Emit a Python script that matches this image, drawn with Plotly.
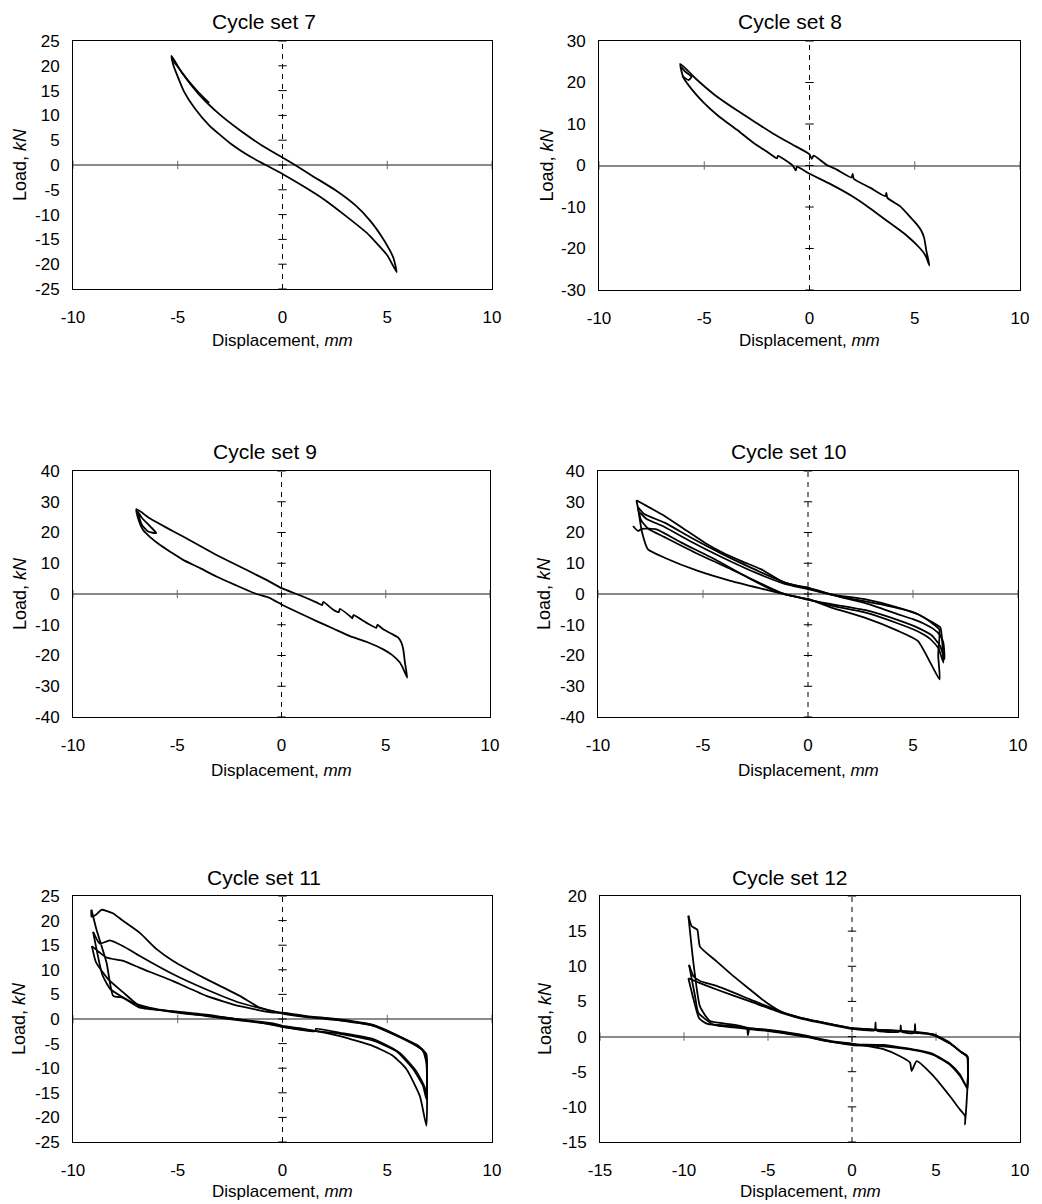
import plotly.graph_objects as go

# page is rendered with the browser's default 8px body margin, so the figure
# is sized to the remaining area and pixel positions are shifted by OFF
PAGE_W, PAGE_H, OFF = 1042, 1204, 8
W, H = PAGE_W - OFF, PAGE_H - OFF

# ---------------- data ----------------
panel_titles = ["Cycle set 7", "Cycle set 8", "Cycle set 9",
                "Cycle set 10", "Cycle set 11", "Cycle set 12"]

# Cycle set 7
cs7_x = [-5.30, -4.80, -4.00, -3.00, -2.00, -1.00, 0.00, 0.60, 1.50, 2.50, 3.50, 4.20, 4.70, 5.10, 5.30, 5.45,
         5.00, 4.50, 4.00, 3.00, 2.00, 1.00, 0.00, -0.80, -1.50, -2.50, -3.50, -4.20, -4.70, -5.00, -5.20, -5.30]
cs7_y = [22.0, 18.6, 14.3, 10.2, 6.9, 4.0, 1.5, 0.0, -2.4, -5.0, -8.2, -11.3, -14.2, -17.0, -18.8, -21.6,
         -18.2, -15.8, -13.6, -10.2, -7.0, -4.3, -1.8, 0.0, 1.6, 4.4, 8.0, 11.5, 14.8, 17.8, 20.0, 22.0]
cs7_c2_x = [-5.25, -5.00, -4.50, -4.00, -3.50]
cs7_c2_y = [21.2, 19.8, 17.0, 14.6, 12.5]

# Cycle set 8
cs8_x = [-6.14, -5.40, -4.50, -3.45, -2.50, -1.70, -0.80, 0.00, 0.10, 0.20, 0.80, 1.30, 2.00, 2.05, 2.10, 2.90,
         3.60, 3.65, 3.70, 4.30, 4.80, 5.10, 5.30, 5.45, 5.55, 5.70, 5.50, 5.26, 4.60, 3.67, 2.90, 2.09, 1.00,
         0.00, -0.60, -0.65, -0.80, -1.50, -1.55, -1.87, -2.70, -3.45, -4.30, -5.04, -5.60, -6.00, -6.14]
cs8_y = [24.5, 20.9, 17.0, 13.3, 10.2, 7.6, 5.0, 2.7, 1.6, 2.4, 0.2, -1.0, -2.9, -2.0, -3.2, -5.4,
         -7.4, -6.6, -7.8, -9.8, -12.5, -14.2, -15.6, -17.5, -20.5, -24.1, -21.6, -20.0, -16.8, -13.3, -10.4, -7.6, -4.5,
         -2.0, -0.3, -1.2, 0.0, 2.3, 1.7, 2.8, 5.6, 8.6, 11.8, 15.2, 18.4, 21.3, 24.5]
cs8_c2_x = [-6.10, -5.90, -5.60, -5.75, -6.05]
cs8_c2_y = [23.8, 22.6, 21.4, 20.6, 21.6]

# Cycle set 9
cs9_x = [-6.96, -6.32, -5.50, -4.72, -3.90, -3.12, -2.30, -1.52, -0.70, 0.00, 0.88, 1.70, 1.95, 2.00, 2.48, 2.75,
         2.80, 3.30, 3.40, 3.45, 4.08, 4.55, 4.60, 4.88, 5.30, 5.60, 5.75, 5.84, 5.92, 6.03, 5.85, 5.68, 5.30,
         4.88, 4.10, 3.28, 2.50, 1.68, 0.80, 0.00, -0.60, -1.20, -2.20, -3.12, -3.90, -4.72, -5.30, -5.84, -6.30,
         -6.64, -6.85, -6.96]
cs9_y = [27.6, 24.6, 21.5, 18.7, 15.6, 12.7, 9.9, 7.3, 4.5, 1.9, -0.4, -2.8, -3.6, -2.6, -5.1, -5.9,
         -4.8, -7.3, -7.9, -6.9, -9.4, -11.0, -10.0, -11.5, -13.0, -14.2, -15.8, -18.0, -22.3, -27.2, -24.5, -22.3, -19.8,
         -18.0, -15.6, -13.7, -11.3, -8.8, -6.0, -3.4, -1.2, 0.0, 2.9, 5.7, 8.4, 11.1, 13.6, 16.0, 18.5,
         20.8, 24.0, 27.6]
cs9_c2_x = [-6.90, -6.70, -6.40, -6.00, -6.30, -6.70, -6.90]
cs9_c2_y = [26.8, 22.5, 20.3, 19.8, 22.0, 24.8, 26.8]

# Cycle set 10
cs10_c1_x = [-8.33, -8.10, -7.90, -7.22, -6.03, -4.44, -2.86, -1.75, -1.00, 0.00, 1.11, 2.70, 4.29, 5.24, 5.80,
             6.20, 6.45, 6.35, 6.30, 5.95, 5.08, 3.49, 1.43, 0.00, -1.11, -2.38, -4.05, -5.56, -6.83, -7.80, -8.10]
cs10_c1_y = [22.1, 20.5, 21.2, 21.0, 16.7, 11.3, 5.3, 1.5, -0.3, -1.7, -3.8, -6.0, -9.6, -12.2, -14.5,
             -17.5, -22.3, -12.5, -10.8, -9.3, -6.1, -3.4, -0.7, 1.8, 3.7, 7.5, 12.9, 18.3, 23.2, 26.0, 28.3]
cs10_c2_x = [-8.10, -7.90, -7.62, -6.83, -5.24, -3.65, -2.06, -1.11, 0.00, 1.11, 2.70, 4.29, 5.24, 5.87, 6.27,
             6.20, 6.25, 5.87, 5.24, 4.29, 2.70, 1.10, 0.00, -0.48, -1.27, -2.22, -3.17, -4.05, -4.92, -5.87,
             -6.83, -7.54, -8.17]
cs10_c2_y = [28.3, 20.0, 14.5, 11.8, 7.5, 4.2, 1.5, -0.1, -1.7, -4.4, -7.7, -12.0, -15.3, -22.9, -27.8,
             -20.0, -11.5, -9.3, -6.6, -4.4, -1.7, -0.1, 2.1, 2.6, 4.2, 8.0, 10.7, 13.4, 16.7, 21.0,
             25.4, 28.1, 30.5]
cs10_c3_x = [-8.17, -7.95, -7.60, -6.83, -5.24, -3.65, -2.06, -1.27, 0.00, 1.11, 2.70, 4.29, 5.24, 5.90, 6.30,
             6.50, 6.45, 6.30, 6.00, 5.50, 5.00, 4.29, 2.70, 1.20, 0.00, -1.11, -2.38, -4.05, -5.56, -6.83,
             -7.70, -8.00]
cs10_c3_y = [30.5, 24.0, 21.2, 18.5, 13.0, 8.0, 2.8, 0.4, -1.9, -3.3, -5.2, -8.5, -11.0, -13.5, -17.0,
             -21.2, -16.0, -13.5, -11.5, -9.6, -8.2, -6.6, -2.9, -0.4, 1.6, 3.3, 6.6, 11.8, 17.0, 21.8,
             24.5, 26.5]

# Cycle set 11
cs11_c1_x = [-9.12, -8.88, -8.40, -8.08, -7.60, -6.81, -5.22, -3.63, -2.04, -0.45, 0.00, 1.15, 2.74, 4.33, 5.28,
             5.92, 6.56, 6.87, 6.87, 6.71, 6.40, 5.28, 4.33, 2.74, 1.15, 0.00, -0.45, -2.04, -3.63, -5.22, -6.81,
             -7.60, -8.24, -8.72, -9.04]
cs11_c1_y = [22.2, 18.2, 11.5, 4.7, 4.3, 2.3, 1.6, 0.9, -0.1, -0.9, -1.4, -2.1, -3.5, -5.5, -7.5,
             -10.2, -15.7, -21.7, -9.0, -6.5, -5.5, -3.1, -1.4, -0.2, 0.5, 1.2, 1.6, 3.3, 6.0, 9.1, 12.8,
             14.8, 16.0, 15.3, 17.7]
cs11_c2_x = [-9.04, -8.60, -8.20, -7.13, -6.00, -4.50, -2.50, -1.00, 0.00, 1.55, 1.60, 2.74, 4.33, 5.44, 6.24,
             6.71, 6.87, 6.87, 6.70, 6.35, 5.28, 4.33, 2.74, 1.15, 0.00, -0.45, -2.04, -3.63, -5.22, -6.81,
             -7.60, -8.40, -9.10]
cs11_c2_y = [17.7, 9.0, 6.0, 3.3, 2.0, 1.1, 0.2, -0.8, -1.6, -2.5, -2.0, -2.8, -4.1, -6.5, -10.2,
             -13.6, -16.3, -8.0, -6.4, -5.3, -2.9, -1.2, -0.1, 0.6, 1.3, 1.3, 2.6, 4.7, 7.7, 10.4,
             11.8, 12.5, 14.8]
cs11_c3_x = [-9.10, -8.90, -8.30, -7.60, -6.81, -5.22, -3.63, -2.04, -0.45, 0.00, 1.50, 2.74, 4.33, 5.60, 6.40,
             6.78, 6.87, 6.87, 6.68, 6.40, 5.28, 4.33, 2.74, 1.15, 0.00, -1.08, -2.04, -3.63, -5.22, -6.01,
             -6.81, -7.60, -8.10, -8.64, -8.90, -9.12, -9.12]
cs11_c3_y = [14.8, 11.5, 8.0, 5.4, 2.6, 1.4, 0.6, -0.3, -1.1, -1.6, -2.4, -3.0, -4.4, -6.9, -10.7,
             -13.8, -15.6, -7.2, -6.2, -5.2, -3.0, -1.3, -0.3, 0.4, 1.1, 2.3, 4.7, 8.1, 11.8, 14.2,
             17.5, 19.9, 21.5, 22.2, 21.2, 20.8, 22.2]

# Cycle set 12
cs12_c1_x = [-9.74, -9.44, -9.05, -8.45, -7.06, -6.25, -6.20, -6.10, -5.08, -3.10, -1.11, 0.00, 1.87, 2.86,
             3.45, 3.55, 3.85, 4.84, 5.83, 6.43, 6.73, 6.73, 6.87, 6.43, 5.83, 4.84, 3.85, 2.86, 1.27, 0.00,
             -1.11, -3.10, -4.09, -6.07, -8.06, -9.05, -9.44, -9.70]
cs12_c1_y = [17.2, 10.5, 4.3, 2.2, 1.7, 1.2, 0.2, 1.1, 1.0, 0.3, -0.7, -1.0, -1.8, -2.8,
             -3.7, -4.9, -3.5, -5.6, -8.5, -10.4, -11.3, -12.5, -2.8, -2.1, -0.9, 0.3, 0.6, 0.8, 1.0, 1.2,
             1.7, 2.7, 3.4, 5.3, 7.2, 7.9, 8.6, 10.2]
cs12_c2_x = [-9.70, -9.34, -9.15, -8.25, -7.06, -5.08, -3.10, -1.11, 0.00, 1.87, 3.85, 4.84, 5.83, 6.43, 6.83,
             6.87, 6.50, 5.83, 4.84, 4.00, 3.80, 3.75, 3.70, 2.95, 2.90, 2.85, 1.45, 1.40, 1.35, 0.00,
             -1.11, -3.10, -4.09, -6.07, -8.06, -9.05, -9.74]
cs12_c2_y = [10.2, 5.7, 3.4, 1.7, 1.3, 0.8, 0.1, -0.8, -1.2, -1.4, -2.0, -2.6, -4.0, -5.6, -7.1,
             -2.9, -2.2, -1.0, 0.2, 0.5, 0.5, 1.8, 0.5, 0.7, 1.6, 0.7, 0.9, 2.0, 0.9, 1.1,
             1.6, 2.6, 3.3, 5.0, 6.7, 7.6, 8.3]
cs12_c3_x = [-9.74, -9.40, -9.10, -8.60, -7.06, -5.08, -3.10, -1.11, 0.00, 1.87, 3.85, 4.84, 5.83, 6.43, 6.87,
             6.87, 6.83, 6.43, 5.83, 4.84, 4.05, 2.86, 1.27, 0.00, -1.11, -3.10, -4.09, -5.08, -6.07, -7.06,
             -8.06, -9.05, -9.21, -9.54, -9.74]
cs12_c3_y = [8.3, 5.0, 2.6, 1.8, 1.5, 0.9, 0.2, -0.8, -1.1, -1.2, -1.9, -2.5, -3.9, -5.4, -7.4,
             -3.0, -2.8, -2.1, -0.9, 0.3, 0.6, 0.8, 1.0, 1.2, 1.7, 2.7, 3.4, 4.8, 6.7, 8.6,
             10.7, 12.8, 15.2, 15.7, 17.2]

# axis ticks per panel
x_ticks = [[-10, -5, 0, 5, 10]] * 5 + [[-15, -10, -5, 0, 5, 10]]
y_ticks = [
    [-25, -20, -15, -10, -5, 0, 5, 10, 15, 20, 25],
    [-30, -20, -10, 0, 10, 20, 30],
    [-40, -30, -20, -10, 0, 10, 20, 30, 40],
    [-40, -30, -20, -10, 0, 10, 20, 30, 40],
    [-25, -20, -15, -10, -5, 0, 5, 10, 15, 20, 25],
    [-15, -10, -5, 0, 5, 10, 15, 20],
]

panel_curves = [
    [(cs7_x, cs7_y), (cs7_c2_x, cs7_c2_y)],
    [(cs8_x, cs8_y), (cs8_c2_x, cs8_c2_y)],
    [(cs9_x, cs9_y), (cs9_c2_x, cs9_c2_y)],
    [(cs10_c1_x, cs10_c1_y), (cs10_c2_x, cs10_c2_y), (cs10_c3_x, cs10_c3_y)],
    [(cs11_c1_x, cs11_c1_y), (cs11_c2_x, cs11_c2_y), (cs11_c3_x, cs11_c3_y)],
    [(cs12_c1_x, cs12_c1_y), (cs12_c2_x, cs12_c2_y), (cs12_c3_x, cs12_c3_y)],
]

# ---------------- layout geometry (page pixels) ----------------
boxes = [(73, 492, 41, 289), (599, 1020, 41, 290),
         (73, 490, 471, 717), (598, 1018, 471, 717),
         (73, 492, 896, 1142), (600, 1020, 896, 1142)]
title_pos = [(264, 22), (790, 22), (265, 452), (789, 452), (264, 877), (790, 877)]
xtitle_y = [340, 340, 770, 770, 1191, 1191]
ytitle_x = [20, 546, 20, 544, 19, 545]


def fx(p):
    return (p - OFF) / W


def fy(p):
    return 1 - (p - OFF) / H


FONT = "Liberation Sans, Arial, Helvetica, sans-serif"

fig = go.Figure()
layout = dict(
    width=W, height=H, margin=dict(l=0, r=0, t=0, b=0, autoexpand=False),
    paper_bgcolor="white", plot_bgcolor="white",
    font=dict(family=FONT, color="black", size=17),
    showlegend=False, annotations=[], shapes=[],
)

for i in range(6):
    n = "" if i == 0 else str(i + 1)
    xa, ya = "x" + n, "y" + n
    l, r, t, b = boxes[i]
    xt, yt = x_ticks[i], y_ticks[i]
    layout["xaxis" + n] = dict(
        domain=[fx(l), fx(r)], anchor=ya, range=[xt[0], xt[-1]],
        tickvals=xt, ticktext=[str(v) for v in xt], ticks="", showgrid=False, zeroline=False,
        showline=True, mirror=True, linecolor="black", linewidth=1, automargin=False,
        tickfont=dict(size=17, family=FONT), ticklabelstandoff=13,
    )
    layout["yaxis" + n] = dict(
        domain=[fy(b), fy(t)], anchor=xa, range=[yt[0], yt[-1]],
        tickvals=yt, ticktext=[str(v) for v in yt], ticks="", showgrid=False,
        zeroline=True, zerolinecolor="#8a8a8a", zerolinewidth=1.5,
        showline=True, mirror=True, linecolor="black", linewidth=1, automargin=False,
        tickfont=dict(size=17, family=FONT), ticklabelstandoff=9,
    )
    # dashed vertical line at x = 0
    layout["shapes"].append(dict(type="line", xref=xa, yref=ya + " domain",
                                 x0=0, x1=0, y0=0, y1=1,
                                 line=dict(color="black", width=1, dash="5px,5px")))
    # small crossing ticks on the zero lines
    fig.add_trace(go.Scatter(x=[0] * len(yt), y=yt, mode="markers", xaxis=xa, yaxis=ya,
                             marker=dict(symbol="line-ew", size=6, line=dict(color="black", width=1)),
                             hoverinfo="skip"))
    fig.add_trace(go.Scatter(x=xt, y=[0] * len(xt), mode="markers", xaxis=xa, yaxis=ya,
                             marker=dict(symbol="line-ns", size=6, line=dict(color="#666", width=1)),
                             hoverinfo="skip"))
    for cx, cy in panel_curves[i]:
        fig.add_trace(go.Scatter(x=cx, y=cy, mode="lines", xaxis=xa, yaxis=ya,
                                 line=dict(color="black", width=1.8, shape="spline", smoothing=0.5),
                                 hoverinfo="skip"))
    # texts
    tx, ty = title_pos[i]
    layout["annotations"].append(dict(text=panel_titles[i], xref="paper", yref="paper",
                                      x=fx(tx), y=fy(ty), xanchor="center", yanchor="middle",
                                      showarrow=False, borderpad=0, font=dict(size=21, family=FONT)))
    layout["annotations"].append(dict(text="Displacement, <i>mm</i>", xref="paper", yref="paper",
                                      x=fx((l + r) / 2), y=fy(xtitle_y[i]),
                                      xanchor="center", yanchor="middle",
                                      showarrow=False, borderpad=0, font=dict(size=17, family=FONT)))
    layout["annotations"].append(dict(text="Load, <i>kN</i>", xref="paper", yref="paper",
                                      x=fx(ytitle_x[i]), y=fy((t + b) / 2),
                                      xanchor="center", yanchor="middle", textangle=-90,
                                      showarrow=False, borderpad=0, font=dict(size=18, family=FONT)))

fig.update_layout(**layout)
fig.write_html("out.html")
